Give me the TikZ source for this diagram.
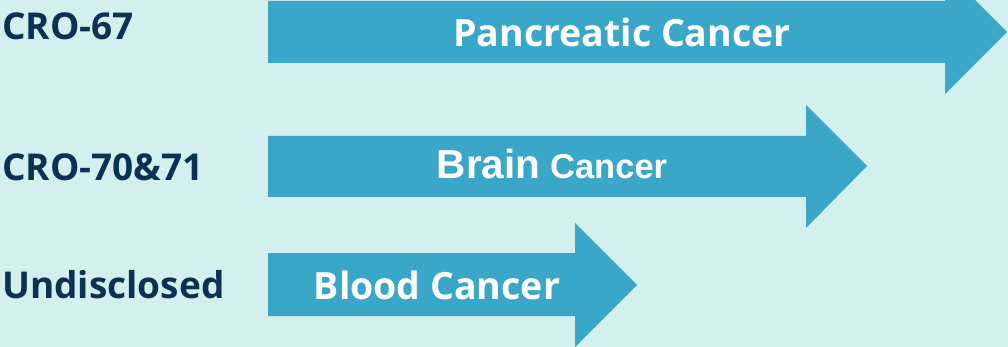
\documentclass[tikz,border=0pt]{standalone}
\usepackage{fontspec}
\setmainfont{Open Sans}
\newfontfamily\brainfont{Liberation Sans}
\usepackage{tikz}
\usetikzlibrary{positioning}
\definecolor{mybg}{HTML}{D3F0EF}
\definecolor{myarrow}{HTML}{3AA7C8}
\definecolor{mynavy}{HTML}{0D3152}
\tikzset{
	rowlabel/.style={
			anchor=west,
			inner sep=0pt,
			text=mynavy,
			font=\fontsize{37}{40}\selectfont\bfseries
		},
	arrowtext/.style={
			anchor=center,
			inner sep=0pt,
			text=white,
			font=\fontsize{37.5}{40}\selectfont\bfseries
		},
	bigarrow/.style={
			fill=myarrow,
			draw=none
		}
}

\begin{document}
\begin{tikzpicture}[x=1pt, y=-1pt]
\fill[mybg] (0,0) rectangle (1008,347);
\useasboundingbox (0,0) rectangle (1008,347);
\clip (0,0) rectangle (1008,347);

% arrows
\fill[bigarrow] (268,1) -- (945,1) -- (945,-30) -- (1007,32) -- (945,94) -- (945,63) -- (268,63) -- cycle;
\fill[bigarrow] (268,136) -- (806,136) -- (806,105) -- (867,166) -- (806,228) -- (806,197) -- (268,197) -- cycle;
\fill[bigarrow] (268,253) -- (575,253) -- (575,223) -- (637,285) -- (575,347) -- (575,316) -- (268,316) -- cycle;

% row labels
\node[rowlabel] (l1) at (2,26) {CRO-67};
\node[rowlabel] (l2) at (2,167) {CRO-70\&71};
\node[rowlabel] (l3) at (2,285) {Undisclosed};

% texts on the arrows
\node[arrowtext] (t1) at (622,32) {Pancreatic Cancer};
\node[arrowtext] (t2) at (552,164) {{\brainfont\fontsize{40.5}{44}\selectfont Brain} {\brainfont\fontsize{34.5}{38}\selectfont Cancer}};
\node[arrowtext] (t3) at (437,285) {Blood Cancer};
\end{tikzpicture}
\end{document}
